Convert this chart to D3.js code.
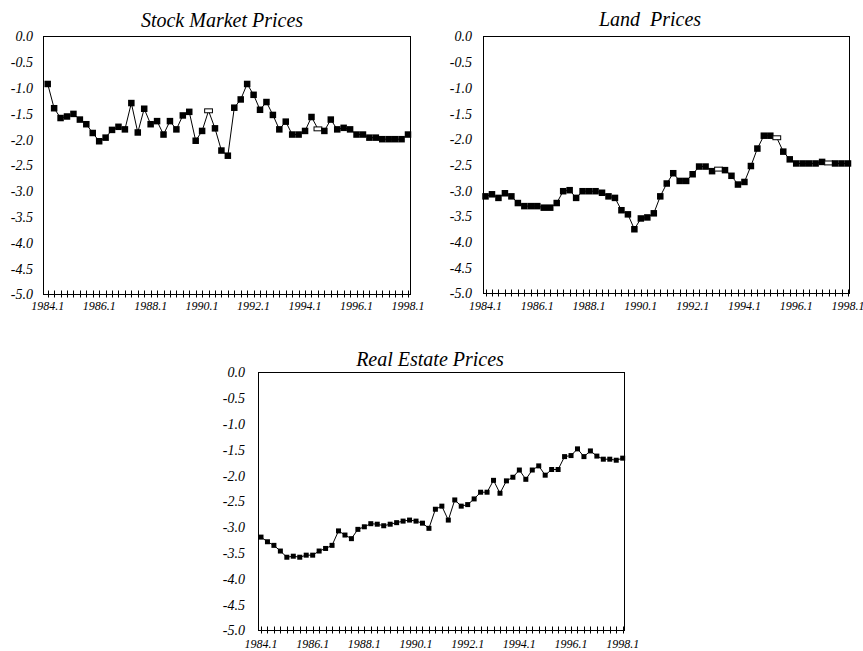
<!DOCTYPE html>
<html><head><meta charset="utf-8">
<script src="https://cdn.jsdelivr.net/npm/d3@7/dist/d3.min.js"></script>
<style>body{margin:0;background:#fff}svg{display:block}</style>
</head><body><svg id="c" width="863" height="651"></svg>
<script>
const quarters = d3.range(57).map(i => `${1984 + Math.floor(i / 4)}.${i % 4 + 1}`);
const xTickLabels = ["1984.1","1986.1","1988.1","1990.1","1992.1","1994.1","1996.1","1998.1"];
const yTickValues = [0,-0.5,-1,-1.5,-2,-2.5,-3,-3.5,-4,-4.5,-5];
const yTickLabels = ["0.0","-0.5","-1.0","-1.5","-2.0","-2.5","-3.0","-3.5","-4.0","-4.5","-5.0"];

const stockPrices = [-0.92,-1.39,-1.58,-1.55,-1.50,-1.61,-1.70,-1.87,-2.03,-1.96,-1.81,-1.75,-1.80,-1.29,-1.86,-1.40,-1.70,-1.64,-1.90,-1.64,-1.80,-1.53,-1.46,-2.02,-1.83,-1.44,-1.78,-2.21,-2.31,-1.38,-1.22,-0.92,-1.13,-1.42,-1.27,-1.52,-1.80,-1.65,-1.90,-1.90,-1.83,-1.56,-1.79,-1.83,-1.61,-1.80,-1.77,-1.80,-1.90,-1.90,-1.96,-1.96,-1.99,-1.99,-1.99,-1.99,-1.90];
const stockOpen = ["1990.2","1994.3"];

const landPrices = [-3.11,-3.07,-3.14,-3.05,-3.11,-3.24,-3.30,-3.30,-3.30,-3.33,-3.33,-3.24,-3.01,-2.99,-3.14,-3.01,-3.01,-3.01,-3.04,-3.11,-3.14,-3.38,-3.46,-3.75,-3.54,-3.52,-3.44,-3.11,-2.86,-2.66,-2.81,-2.81,-2.68,-2.53,-2.53,-2.62,-2.58,-2.60,-2.71,-2.88,-2.83,-2.52,-2.18,-1.93,-1.93,-1.97,-2.24,-2.39,-2.47,-2.47,-2.47,-2.47,-2.44,-2.46,-2.47,-2.47,-2.47];
const landOpen = ["1993.1","1995.2","1997.2"];

const realEstatePrices = [-3.19,-3.28,-3.35,-3.46,-3.58,-3.56,-3.58,-3.54,-3.54,-3.46,-3.41,-3.35,-3.07,-3.15,-3.22,-3.04,-2.99,-2.93,-2.94,-2.97,-2.94,-2.91,-2.88,-2.86,-2.88,-2.92,-3.02,-2.65,-2.59,-2.86,-2.47,-2.59,-2.56,-2.45,-2.32,-2.32,-2.09,-2.34,-2.10,-2.03,-1.89,-2.07,-1.89,-1.81,-1.99,-1.88,-1.88,-1.63,-1.61,-1.48,-1.63,-1.52,-1.62,-1.68,-1.68,-1.70,-1.66];
const realEstateOpen = [];

const panels = [
  {title:"Stock Market Prices", values:stockPrices, open:stockOpen,
   box:[43.5,36.5,410.5,294.5], xr:[47.7,408], labelX:33, titleX:222, titleY:27, xLabY:310, ms:6.5},
  {title:"Land  Prices", values:landPrices, open:landOpen,
   box:[483.5,36.5,849.5,293.5], xr:[485.5,848], labelX:472, titleX:650, titleY:26, xLabY:310, ms:6.5},
  {title:"Real Estate Prices", values:realEstatePrices, open:realEstateOpen,
   box:[258.5,372.5,624.5,630.5], xr:[261,622.7], labelX:245, titleX:430, titleY:366, xLabY:648, ms:5}
];

const svg = d3.select("#c");
const serif = "'Liberation Serif','Times New Roman',serif";

panels.forEach(p => {
  const [x0,y0,x1,y1] = p.box;
  const g = svg.append("g");
  const x = d3.scalePoint().domain(quarters).range(p.xr);
  const y = d3.scaleLinear().domain([0,-5]).range([y0,y1]);

  g.append("text").attr("x",p.titleX).attr("y",p.titleY).attr("text-anchor","middle")
    .attr("font-family",serif).attr("font-style","italic").attr("font-size",20)
    .style("white-space","pre").attr("xml:space","preserve").text(p.title);

  g.append("rect").attr("x",x0).attr("y",y0).attr("width",x1-x0).attr("height",y1-y0)
    .attr("fill","none").attr("stroke","#000").attr("stroke-width",1);

  g.selectAll(".yl").data(yTickValues).join("text")
    .attr("x",p.labelX).attr("y",d=>y(d)).attr("dy","0.35em").attr("text-anchor","end")
    .attr("font-family",serif).attr("font-style","italic").attr("font-size",14)
    .text((d,i)=>yTickLabels[i]);

  g.selectAll(".xt").data(quarters).join("line")
    .attr("x1",d=>Math.round(x(d))+0.5).attr("x2",d=>Math.round(x(d))+0.5)
    .attr("y1",y1-4).attr("y2",y1+3).attr("stroke","#000").attr("stroke-width",1);

  g.selectAll(".xl").data(xTickLabels).join("text")
    .attr("x",d=>x(d)).attr("y",p.xLabY).attr("text-anchor","middle")
    .attr("font-family",serif).attr("font-style","italic").attr("font-size",12)
    .text(d=>d);

  const pts = quarters.map((q,i)=>({q, v:p.values[i]}));
  g.append("path").datum(pts)
    .attr("d", d3.line().x(d=>x(d.q)).y(d=>y(d.v)))
    .attr("fill","none").attr("stroke","#000").attr("stroke-width",1);

  const s = p.ms;
  g.selectAll(".m").data(pts).join("rect")
    .attr("x",d=>x(d.q)-(p.open.includes(d.q)? s*0.6 : s/2))
    .attr("y",d=>y(d.v)-(p.open.includes(d.q)? s*0.3 : s/2))
    .attr("width",d=>p.open.includes(d.q)? s*1.2 : s)
    .attr("height",d=>p.open.includes(d.q)? s*0.6 : s)
    .attr("fill",d=>p.open.includes(d.q)?"#fff":"#000")
    .attr("stroke","#000").attr("stroke-width",d=>p.open.includes(d.q)?1:0);
});
</script>
</body></html>
